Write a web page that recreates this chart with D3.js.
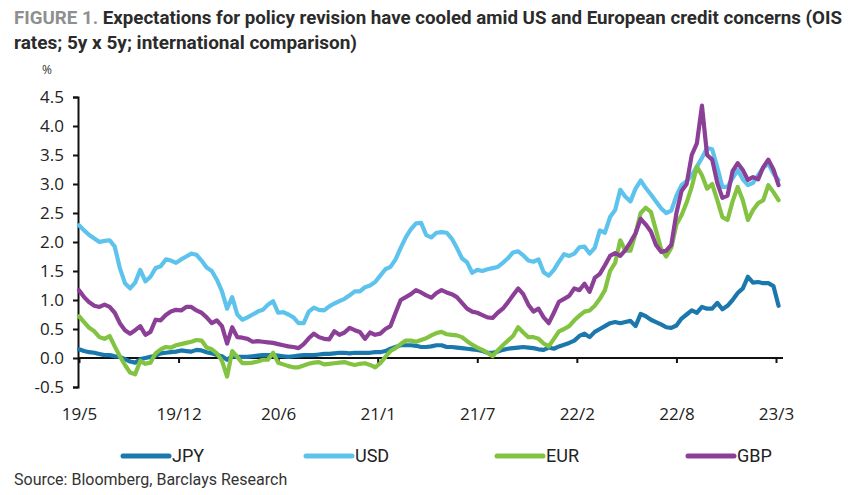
<!DOCTYPE html>
<html>
<head>
<meta charset="utf-8">
<script src="https://cdn.jsdelivr.net/npm/d3@7"></script>
<style>
  html, body { margin: 0; padding: 0; background: #fff; }
  svg { display: block; }
</style>
</head>
<body>
<svg id="chart" width="853" height="495"></svg>
<script>
// ---- Data (5y x 5y OIS rates, %), sampled every 1/3 month from May 2019 ----
const seriesNames = ["JPY", "USD", "EUR", "GBP"];
const xTickLabels = ["19/5", "19/12", "20/6", "21/1", "21/7", "22/2", "22/8", "23/3"];
const xTickMonths = [0, 6.5, 13, 19.5, 26, 32.5, 39, 45.5];
const yTicks = [-0.5, 0.0, 0.5, 1.0, 1.5, 2.0, 2.5, 3.0, 3.5, 4.0, 4.5];
const stepMonths = 1 / 3;

const jpy = [0.15,0.12,0.10,0.09,0.07,0.05,0.05,0.03,0.02,-0.02,-0.06,-0.08,-0.02,0.00,0.02,0.04,0.08,0.09,0.10,0.11,
0.13,0.12,0.11,0.14,0.13,0.10,0.08,0.05,0.03,-0.03,0.03,0.02,0.02,0.02,0.03,0.04,0.05,0.05,0.05,0.04,
0.03,0.02,0.03,0.04,0.05,0.05,0.05,0.06,0.07,0.07,0.08,0.09,0.09,0.08,0.09,0.09,0.09,0.09,0.10,0.10,
0.12,0.16,0.19,0.22,0.22,0.22,0.21,0.19,0.19,0.20,0.22,0.22,0.19,0.19,0.18,0.17,0.16,0.15,0.14,0.12,
0.09,0.09,0.11,0.14,0.16,0.17,0.18,0.19,0.18,0.17,0.15,0.14,0.18,0.16,0.20,0.23,0.26,0.30,0.38,0.42,
0.36,0.45,0.50,0.55,0.60,0.62,0.60,0.62,0.64,0.55,0.76,0.72,0.66,0.62,0.58,0.53,0.52,0.56,0.68,0.75,
0.82,0.78,0.88,0.85,0.85,0.95,0.84,0.90,1.00,1.12,1.20,1.40,1.30,1.31,1.29,1.29,1.24,0.90];

const usd = [2.29,2.20,2.12,2.06,2.00,2.02,2.03,1.92,1.55,1.29,1.20,1.30,1.52,1.32,1.40,1.55,1.58,1.70,1.68,1.64,
1.70,1.75,1.80,1.78,1.68,1.56,1.50,1.35,1.15,0.85,1.05,0.75,0.66,0.70,0.75,0.80,0.83,0.92,0.98,0.78,
0.79,0.75,0.70,0.60,0.60,0.80,0.87,0.83,0.82,0.89,0.94,0.98,1.02,1.08,1.15,1.15,1.22,1.25,1.31,1.42,
1.53,1.57,1.70,1.90,2.08,2.22,2.32,2.33,2.12,2.08,2.16,2.17,2.16,2.06,1.90,1.72,1.65,1.47,1.52,1.50,
1.53,1.55,1.57,1.64,1.72,1.82,1.84,1.77,1.68,1.66,1.70,1.48,1.42,1.52,1.66,1.79,1.76,1.80,1.91,1.92,
1.80,1.90,2.20,2.16,2.43,2.55,2.90,2.78,2.70,2.92,3.06,2.93,2.82,2.70,2.58,2.50,2.54,2.80,2.98,3.05,
3.15,3.30,3.45,3.62,3.60,3.29,2.95,2.95,3.10,3.24,3.08,2.98,3.02,3.15,3.28,3.35,3.18,3.07];

const eur = [0.72,0.62,0.52,0.46,0.36,0.33,0.38,0.20,0.03,-0.12,-0.25,-0.28,-0.05,-0.10,-0.08,0.08,0.15,0.19,0.18,0.22,
0.24,0.26,0.28,0.31,0.30,0.18,0.15,0.08,-0.05,-0.32,0.12,0.02,-0.09,-0.09,-0.08,-0.06,-0.03,-0.03,0.09,-0.08,
-0.11,-0.14,-0.16,-0.16,-0.13,-0.10,-0.08,-0.07,-0.11,-0.10,-0.09,-0.08,-0.07,-0.10,-0.12,-0.10,-0.09,-0.12,-0.16,-0.09,
0.02,0.12,0.17,0.24,0.30,0.30,0.28,0.31,0.34,0.39,0.43,0.45,0.41,0.40,0.39,0.36,0.29,0.23,0.18,0.14,
0.09,0.03,0.13,0.22,0.30,0.38,0.53,0.44,0.36,0.36,0.33,0.25,0.20,0.33,0.46,0.50,0.55,0.65,0.73,0.80,
0.82,0.90,1.02,1.17,1.50,1.64,2.03,1.85,1.85,2.15,2.50,2.59,2.52,2.20,1.88,1.75,1.90,2.30,2.46,2.68,
2.95,3.30,3.15,2.92,3.00,2.72,2.43,2.38,2.70,2.95,2.72,2.38,2.55,2.67,2.72,2.98,2.86,2.72];

const gbp = [1.17,1.05,0.96,0.90,0.88,0.92,0.88,0.78,0.60,0.48,0.42,0.48,0.55,0.40,0.45,0.66,0.65,0.74,0.80,0.83,
0.82,0.88,0.88,0.82,0.78,0.70,0.60,0.65,0.55,0.25,0.53,0.36,0.35,0.33,0.28,0.29,0.28,0.27,0.26,0.24,
0.22,0.20,0.19,0.17,0.24,0.34,0.42,0.36,0.33,0.32,0.46,0.40,0.44,0.52,0.48,0.45,0.33,0.44,0.40,0.42,
0.50,0.55,0.78,1.00,1.05,1.10,1.17,1.13,1.08,1.04,1.12,1.17,1.13,1.10,1.05,0.95,0.85,0.80,0.78,0.74,
0.70,0.69,0.78,0.85,0.96,1.08,1.20,1.10,0.92,0.80,0.85,0.70,0.60,0.78,0.97,1.02,1.07,1.20,1.17,1.28,
1.14,1.38,1.45,1.60,1.76,1.81,1.76,1.86,2.00,2.15,2.40,2.30,2.18,1.95,1.83,1.85,1.95,2.50,2.88,3.00,
3.50,3.70,4.35,3.50,3.42,3.02,2.76,2.80,3.22,3.36,3.24,3.07,3.12,3.08,3.29,3.42,3.25,2.98];

const seriesValues = [jpy, usd, eur, gbp];
const seriesColors = ["#1a78ad", "#5ec3ec", "#82c341", "#8b3f96"];

// ---- Chart ----
const svg = d3.select("#chart");
const x = d3.scaleLinear().domain([0, 45.5]).range([79, 776]);
const y = d3.scaleLinear().domain([-0.5, 4.5]).range([387, 97]);

// Title
const title = svg.append("text")
  .attr("x", 14).attr("y", 24)
  .attr("font-family", "'Liberation Sans Narrow', 'Roboto', 'Noto Sans', sans-serif")
  .attr("font-size", 18).attr("font-weight", "bold")
  .attr("textLength", 828).attr("lengthAdjust", "spacingAndGlyphs");
title.append("tspan").attr("fill", "#8f8f8f").text("FIGURE 1. ");
title.append("tspan").attr("fill", "#2b2b2b")
  .text("Expectations for policy revision have cooled amid US and European credit concerns (OIS");
svg.append("text")
  .attr("x", 14).attr("y", 49)
  .attr("font-family", "'Liberation Sans Narrow', 'Roboto', 'Noto Sans', sans-serif")
  .attr("font-size", 18).attr("font-weight", "bold").attr("fill", "#2b2b2b")
  .attr("textLength", 343).attr("lengthAdjust", "spacingAndGlyphs")
  .text("rates; 5y x 5y; international comparison)");

// Unit label
svg.append("text")
  .attr("x", 47).attr("y", 74).attr("text-anchor", "middle")
  .attr("font-family", "'Open Sans', sans-serif").attr("font-size", 12).attr("fill", "#333")
  .text("%");

// Y axis
const yAxis = d3.axisLeft(y).tickValues(yTicks).tickFormat(d3.format(".1f")).tickSize(5).tickPadding(9);
const gy = svg.append("g").attr("transform", "translate(78,0)").call(yAxis);
gy.select(".domain").attr("stroke", "#111").attr("stroke-width", 2);
gy.selectAll(".tick line").attr("stroke", "#111").attr("stroke-width", 2);
gy.selectAll(".tick text")
  .attr("font-family", "'Open Sans', sans-serif").attr("font-size", 17).attr("fill", "#222")
  .attr("dy", "0.34em")
  .text(d => d < 0 ? "-" + Math.abs(d).toFixed(1) : d.toFixed(1));

// X axis at y = 0
const xAxis = d3.axisBottom(x).tickValues(xTickMonths)
  .tickFormat((d, i) => xTickLabels[i]).tickSize(5).tickPadding(45);
const gx = svg.append("g").attr("transform", `translate(0,${y(0)})`).call(xAxis);
gx.select(".domain").attr("d", `M78,0H783`).attr("stroke", "#111").attr("stroke-width", 2);
gx.selectAll(".tick line").attr("stroke", "#111").attr("stroke-width", 2);
gx.selectAll(".tick text")
  .attr("font-family", "'Open Sans', sans-serif").attr("font-size", 17).attr("fill", "#222");

// Lines
const line = d3.line()
  .x((d, i) => x(i * stepMonths))
  .y(d => y(d))
  .curve(d3.curveLinear);

svg.append("g").selectAll("path")
  .data(seriesValues)
  .join("path")
  .attr("d", d => line(d))
  .attr("fill", "none")
  .attr("stroke", (d, i) => seriesColors[i])
  .attr("stroke-width", 4.2)
  .attr("stroke-linejoin", "round")
  .attr("stroke-linecap", "round");

// Legend
const legendX = [123, 306, 497, 688];
const legend = svg.append("g").selectAll("g")
  .data(seriesNames)
  .join("g")
  .attr("transform", (d, i) => `translate(${legendX[i]},456)`);
legend.append("line")
  .attr("x1", 0).attr("x2", 46).attr("y1", 0).attr("y2", 0)
  .attr("stroke", (d, i) => seriesColors[i]).attr("stroke-width", 5).attr("stroke-linecap", "round");
legend.append("text")
  .attr("x", 49).attr("y", 6)
  .attr("font-family", "'Liberation Sans Narrow', 'Roboto', sans-serif").attr("font-size", 18).attr("fill", "#222")
  .text(d => d);

// Source
svg.append("text")
  .attr("x", 14).attr("y", 485)
  .attr("font-family", "'Liberation Sans Narrow', 'Roboto', sans-serif").attr("font-size", 16).attr("fill", "#333")
  .text("Source: Bloomberg, Barclays Research");
</script>
</body>
</html>
